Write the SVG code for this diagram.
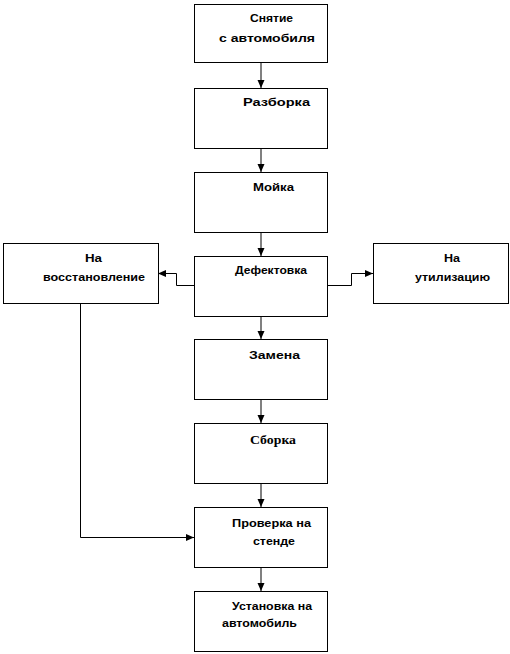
<svg xmlns="http://www.w3.org/2000/svg" width="510" height="654" viewBox="0 0 510 654">
<style>
.box{fill:#fff;stroke:#000;stroke-width:1}
.t{font-family:"Liberation Sans",Arial,sans-serif;font-weight:bold;font-size:11px;fill:#000}
.s{font-family:"Liberation Serif","Times New Roman",serif;font-weight:bold;font-size:12px;fill:#000}
.v{fill:none;stroke:#808080;stroke-width:2}
.e{fill:none;stroke:#000;stroke-width:1}
</style>
<defs>
<marker id="ah" markerUnits="userSpaceOnUse" markerWidth="8" markerHeight="8" viewBox="0 0 8 8" refX="8" refY="4" orient="auto">
<path d="M0,0.5 L8,4 L0,7.5 Z" fill="#000"/>
</marker>
</defs>
<rect width="510" height="654" fill="#fff"/>
<g id="connectors">
<path class="v" d="M261,62 V88" marker-end="url(#ah)"/>
<path class="v" d="M261,148 V172" marker-end="url(#ah)"/>
<path class="v" d="M261,232 V256" marker-end="url(#ah)"/>
<path class="v" d="M261,316 V339" marker-end="url(#ah)"/>
<path class="v" d="M261,399 V423" marker-end="url(#ah)"/>
<path class="v" d="M261,483 V507" marker-end="url(#ah)"/>
<path class="v" d="M261,567 V591" marker-end="url(#ah)"/>
<path class="e" d="M194,285.5 H176.5 V273.5 H158" marker-end="url(#ah)"/>
<path class="e" d="M327,285.5 H351.5 V273.5 H373" marker-end="url(#ah)"/>
<path class="e" d="M80.5,303 V537.5 H194" marker-end="url(#ah)"/>
</g>
<g id="n1"><rect class="box" x="194.5" y="4.5" width="133" height="58"/>
<text class="t" x="250" y="22" textLength="43" lengthAdjust="spacingAndGlyphs">Снятие</text>
<text class="t" x="219" y="42" textLength="96" lengthAdjust="spacingAndGlyphs">с автомобиля</text></g>
<g id="n2"><rect class="box" x="194.5" y="88.5" width="133" height="60"/>
<text class="t" x="243" y="106" textLength="67" lengthAdjust="spacingAndGlyphs">Разборка</text></g>
<g id="n3"><rect class="box" x="194.5" y="172.5" width="133" height="60"/>
<text class="t" x="253" y="191" textLength="41" lengthAdjust="spacingAndGlyphs">Мойка</text></g>
<g id="n4"><rect class="box" x="194.5" y="256.5" width="133" height="60"/>
<text class="t" x="235" y="274" textLength="72" lengthAdjust="spacingAndGlyphs">Дефектовка</text></g>
<g id="n5"><rect class="box" x="194.5" y="339.5" width="133" height="60"/>
<text class="t" x="249" y="359" textLength="51" lengthAdjust="spacingAndGlyphs">Замена</text></g>
<g id="n6"><rect class="box" x="194.5" y="423.5" width="133" height="60"/>
<text class="s" x="250" y="444" textLength="46" lengthAdjust="spacingAndGlyphs">Сборка</text></g>
<g id="n7"><rect class="box" x="194.5" y="507.5" width="133" height="60"/>
<text class="t" x="232" y="527" textLength="79" lengthAdjust="spacingAndGlyphs">Проверка на</text>
<text class="t" x="253" y="545" textLength="42" lengthAdjust="spacingAndGlyphs">стенде</text></g>
<g id="n8"><rect class="box" x="194.5" y="591.5" width="133" height="60"/>
<text class="t" x="232" y="610" textLength="80" lengthAdjust="spacingAndGlyphs">Установка на</text>
<text class="t" x="222" y="627" textLength="75" lengthAdjust="spacingAndGlyphs">автомобиль</text></g>
<g id="left"><rect class="box" x="3.5" y="243.5" width="155" height="60"/>
<text class="t" x="85" y="262" textLength="17" lengthAdjust="spacingAndGlyphs">На</text>
<text class="t" x="43" y="281" textLength="102" lengthAdjust="spacingAndGlyphs">восстановление</text></g>
<g id="right"><rect class="box" x="373.5" y="243.5" width="135" height="60"/>
<text class="t" x="444" y="262" textLength="16" lengthAdjust="spacingAndGlyphs">На</text>
<text class="t" x="415" y="281" textLength="75" lengthAdjust="spacingAndGlyphs">утилизацию</text></g>
</svg>
